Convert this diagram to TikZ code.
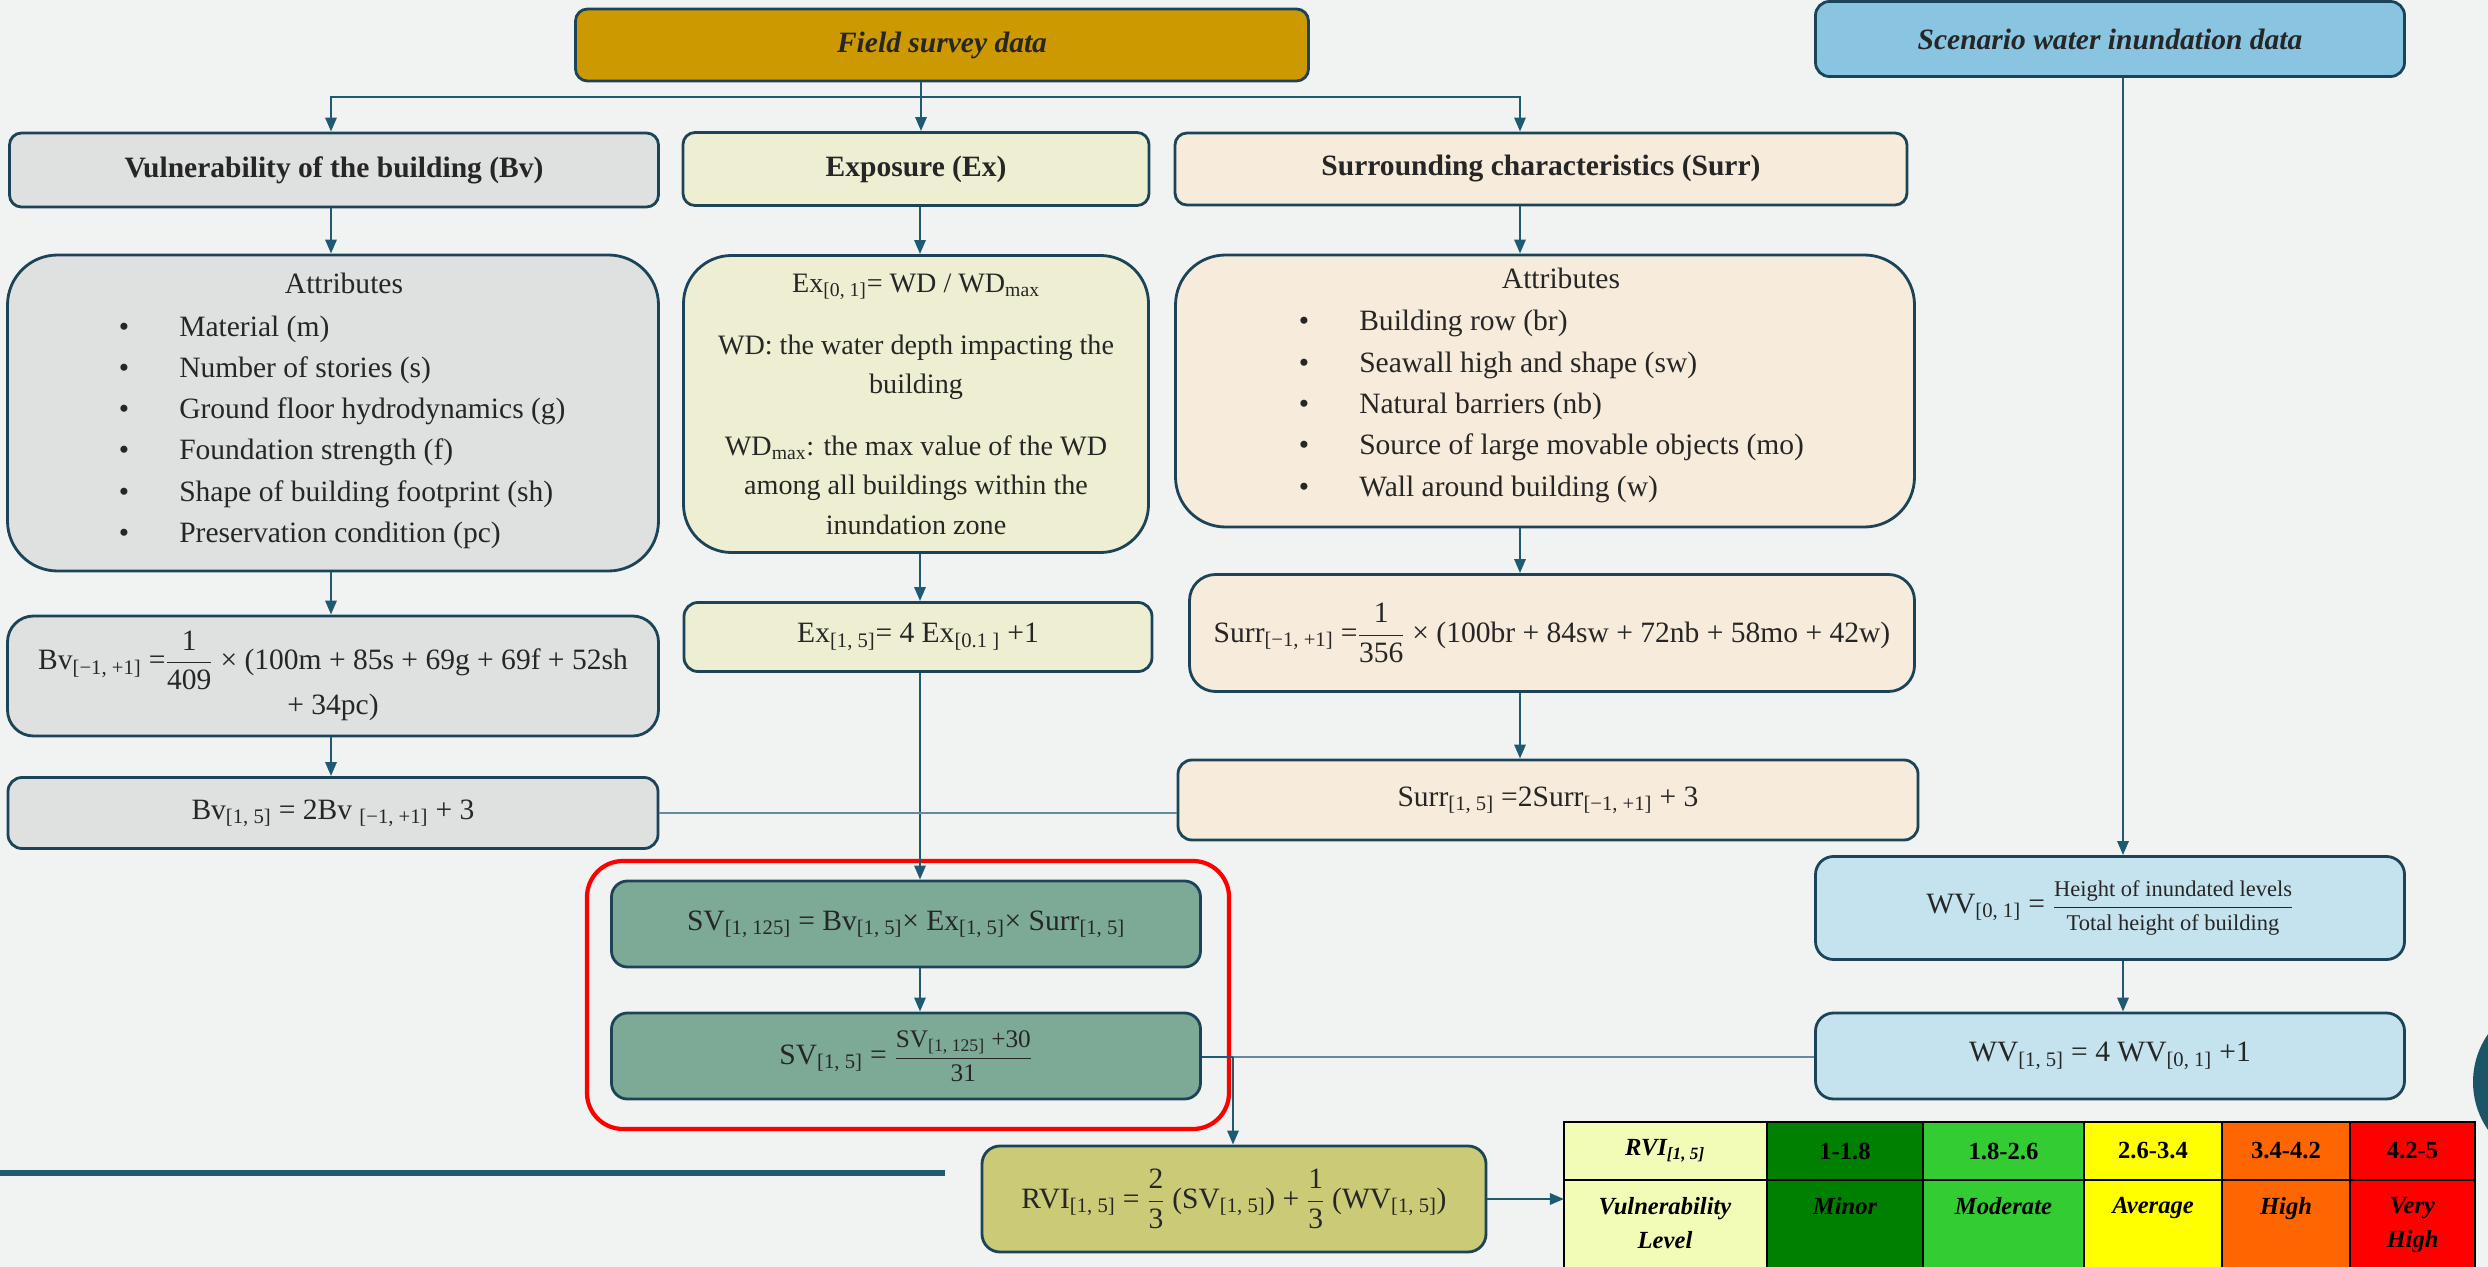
\documentclass[tikz,border=0pt]{standalone}
\usepackage{amsmath}
\usepackage{fontspec}
\setmainfont{Liberation Serif}
\usetikzlibrary{arrows.meta,positioning,calc}
\definecolor{Paper}{HTML}{F1F3F2}
\definecolor{Edge}{HTML}{1B4458}
\definecolor{Wire}{HTML}{1F5A73}
\definecolor{Ink}{HTML}{262626}
\definecolor{Gold}{HTML}{CC9900}
\definecolor{Sky}{HTML}{89C5E0}
\definecolor{BvFill}{HTML}{DFE0E0}
\definecolor{ExFill}{HTML}{EEEFD2}
\definecolor{SurrFill}{HTML}{F7EBDB}
\definecolor{SvFill}{HTML}{7DAA96}
\definecolor{WvFill}{HTML}{C5E3EE}
\definecolor{RviFill}{HTML}{CBCB77}
\definecolor{HeadFill}{HTML}{F3FCB6}
\definecolor{Minor}{HTML}{008000}
\definecolor{Moder}{HTML}{33CC33}
\definecolor{Aver}{HTML}{FFFF00}
\definecolor{HighC}{HTML}{FF6600}
\definecolor{VHigh}{HTML}{FF0000}
\definecolor{Knob}{HTML}{1D5568}
\newcommand{\idx}[1]{\textsubscript{#1}}
\newcommand{\frc}[2]{$\genfrac{}{}{0.9pt}{0}{\text{#1}}{\text{#2}}$}

\begin{document}
\begin{tikzpicture}[x=0.025cm,y=-0.025cm,
    box/.style={draw=Edge,line width=2pt,align=center,text=Ink,inner sep=0pt,
      font=\fontsize{21}{26}\selectfont},
    wh/.style 2 args={minimum width=#1*0.025cm,minimum height=#2*0.025cm},
    link/.style={draw=Wire,line width=1.8pt},
    thinlink/.style={draw=Wire!70,line width=1.1pt},
    arrow/.style={link,-{Triangle[length=10pt,width=8pt]}},
    item/.style={text=Ink,inner sep=0pt,text height=14pt,text depth=4pt,
      font=\fontsize{21}{26}\selectfont},
    cell/.style={text=black,inner sep=0pt,align=center,
      font=\fontsize{17.5}{24}\selectfont\bfseries}]
  \fill[Paper] (0,0) rectangle (2488,1267);
  \useasboundingbox (0,0) rectangle (2488,1267);
  \clip (0,0) rectangle (2488,1267);

  \coordinate (bcol) at (331,0);
  \coordinate (ecol) at (920,0);
  \coordinate (scol) at (1520,0);
  \coordinate (wcol) at (2123,0);

  \node[box,fill=Gold,wh={733}{72},rounded corners=0.3cm] (field) at (942,45) {\textbf{\textit{Field survey data}}};
  \node[box,fill=Sky,wh={589}{75},rounded corners=0.35cm] (scen) at (2110,39) {\textbf{\textit{Scenario water inundation data}}};

  \node[box,fill=BvFill,wh={649}{74},rounded corners=0.3cm] (bvt) at (334,170) {\textbf{Vulnerability of the building (Bv)}};
  \node[box,fill=ExFill,wh={466}{73},rounded corners=0.3cm] (ext) at (916,169) {\textbf{Exposure (Ex)}};
  \node[box,fill=SurrFill,wh={732}{72},rounded corners=0.3cm] (surt) at (1541,169) {\textbf{Surrounding characteristics (Surr)}};

  \node[box,fill=BvFill,wh={651}{316},rounded corners=1.25cm] (bva) at (333,413) {};
  \node[item] (bvh) at (344,286) {Attributes};
  \foreach \t [count=\i] in {Material (m),Number of stories (s),Ground floor hydrodynamics (g),
      Foundation strength (f),Shape of building footprint (sh),Preservation condition (pc)} {
    \node[item] (bvb\i) at (124,288+41.2*\i) {\textbullet};
    \node[item,anchor=west] (bvi\i) at (179,288+41.2*\i) {\t};
  }

  \node[box,fill=ExFill,wh={465}{297},rounded corners=1.2cm,font=\fontsize{20}{28}\selectfont] (exa) at (916,404)
    {Ex\idx{[0, 1]}= WD / WD\idx{max}\\[16pt]
     WD: the water depth impacting the\\building\\[16pt]
     WD\idx{max}: the max value of the WD\\among all buildings within the\\inundation zone};

  \node[box,fill=SurrFill,wh={739}{272},rounded corners=1.25cm] (sura) at (1545,391) {};
  \node[item] (surh) at (1561,281) {Attributes};
  \foreach \t [count=\i] in {Building row (br),Seawall high and shape (sw),Natural barriers (nb),
      Source of large movable objects (mo),Wall around building (w)} {
    \node[item] (surb\i) at (1304,282.6+41.3*\i) {\textbullet};
    \node[item,anchor=west] (suri\i) at (1359,282.6+41.3*\i) {\t};
  }

  \node[box,fill=BvFill,wh={651}{120},rounded corners=0.65cm] (bvf) at (333,676)
    {Bv\idx{[−1, +1]} =\frc{1}{409} × (100m + 85s + 69g + 69f + 52sh\\[2pt]+ 34pc)};
  \node[box,fill=ExFill,wh={468}{69},rounded corners=0.35cm] (exf) at (918,637) {Ex\idx{[1, 5]}= 4 Ex\idx{[0.1 ]} +1};
  \node[box,fill=SurrFill,wh={725}{117},rounded corners=0.65cm] (surf) at (1552,633)
    {Surr\idx{[−1, +1]} =\frc{1}{356} × (100br + 84sw + 72nb + 58mo + 42w)};

  \node[box,fill=BvFill,wh={650}{71},rounded corners=0.35cm] (bvs) at (333,813) {Bv\idx{[1, 5]} = 2Bv \idx{[−1, +1]} + 3};
  \node[box,fill=SurrFill,wh={740}{80},rounded corners=0.35cm] (surs) at (1548,800) {Surr\idx{[1, 5]} =2Surr\idx{[−1, +1]} + 3};

  \node[box,fill=SvFill,wh={589}{86},rounded corners=0.4cm] (svx) at (906,924)
    {SV\idx{[1, 125]} = Bv\idx{[1, 5]}× Ex\idx{[1, 5]}× Surr\idx{[1, 5]}};
  \node[box,fill=SvFill,wh={589}{86},rounded corners=0.4cm] (svn) at (906,1056)
    {SV\idx{[1, 5]} = {\fontsize{18}{20}\selectfont\frc{SV\idx{[1, 125]} +30}{31}}};
  \draw[VHigh,line width=3pt,rounded corners=0.9cm] (587,861) rectangle (1229,1129);

  \node[box,fill=WvFill,wh={589}{103},rounded corners=0.45cm] (wvo) at (2110,908)
    {WV\idx{[0, 1]} = {\fontsize{16}{18}\selectfont\frc{Height of inundated levels}{Total height of building}}};
  \node[box,fill=WvFill,wh={589}{86},rounded corners=0.45cm] (wvf) at (2110,1056) {WV\idx{[1, 5]} = 4 WV\idx{[0, 1]} +1};

  \node[box,fill=RviFill,wh={504}{106},rounded corners=0.45cm] (rvi) at (1234,1199)
    {RVI\idx{[1, 5]} = \frc{2}{3} (SV\idx{[1, 5]}) + \frc{1}{3} (WV\idx{[1, 5]})};

  \fill[Wire] (0,1170) rectangle (945,1176);
  \fill[Knob] (2557,1082) circle (84);

  \filldraw[fill=HeadFill,draw=black,line width=2pt] (1564,1122) rectangle (1767,1290);
  \node[cell] (rvih) at (1665,1151) {\textit{RVI\idx{[1, 5]}}};
  \node[cell,anchor=north,font=\fontsize{17.5}{24}\selectfont\bfseries\itshape] (vlev) at (1665,1197) {Vulnerability\\Level};
  \foreach \a/\b/\c/\r/\l [count=\k] in {1767/1923/Minor/1-1.8/Minor,1923/2084/Moder/1.8-2.6/Moderate,
      2084/2222/Aver/2.6-3.4/Average,2222/2350/HighC/3.4-4.2/High,2350/2475/VHigh/4.2-5/{Very\\High}} {
    \filldraw[fill=\c,draw=black,line width=2pt] (\a,1122) rectangle (\b,1290);
    \node[cell] (rng\k) at ({(\a+\b)/2},1151) {\r};
    \node[cell,anchor=north,font=\fontsize{17.5}{24}\selectfont\bfseries\itshape] (lvl\k) at ({(\a+\b)/2},1197) {\l};
  }
  \draw[black,line width=2pt] (1564,1180) -- (2475,1180);

  \coordinate (split) at (921,97);
  \draw[link] (field.south -| split) -- (split);
  \draw[arrow] (split) -| (bvt.north -| bcol);
  \draw[arrow] (split) -- (ext.north -| split);
  \draw[arrow] (split) -| (surt.north -| scol);
  \draw[arrow] (bvt.south -| bcol) -- (bva.north -| bcol);
  \draw[arrow] (bva.south -| bcol) -- (bvf.north -| bcol);
  \draw[arrow] (bvf.south -| bcol) -- (bvs.north -| bcol);
  \draw[arrow] (ext.south -| ecol) -- (exa.north -| ecol);
  \draw[arrow] (exa.south -| ecol) -- (exf.north -| ecol);
  \draw[arrow] (exf.south -| ecol) -- (svx.north -| ecol);
  \draw[arrow] (surt.south -| scol) -- (sura.north -| scol);
  \draw[arrow] (sura.south -| scol) -- (surf.north -| scol);
  \draw[arrow] (surf.south -| scol) -- (surs.north -| scol);
  \draw[arrow] (scen.south -| wcol) -- (wvo.north -| wcol);
  \draw[arrow] (wvo.south -| wcol) -- (wvf.north -| wcol);
  \draw[arrow] (svx.south -| ecol) -- (svn.north -| ecol);
  \draw[thinlink] (bvs.east) -- (surs.west |- bvs.east);
  \coordinate (join) at (1233,1057);
  \draw[link] (svn.east |- join) -- (join);
  \draw[thinlink] (wvf.west |- join) -- (join);
  \draw[arrow] (join) -- (rvi.north -| join);
  \draw[arrow] (rvi.east) -- (rvi.east -| 1564,0);
\end{tikzpicture}
\end{document}
